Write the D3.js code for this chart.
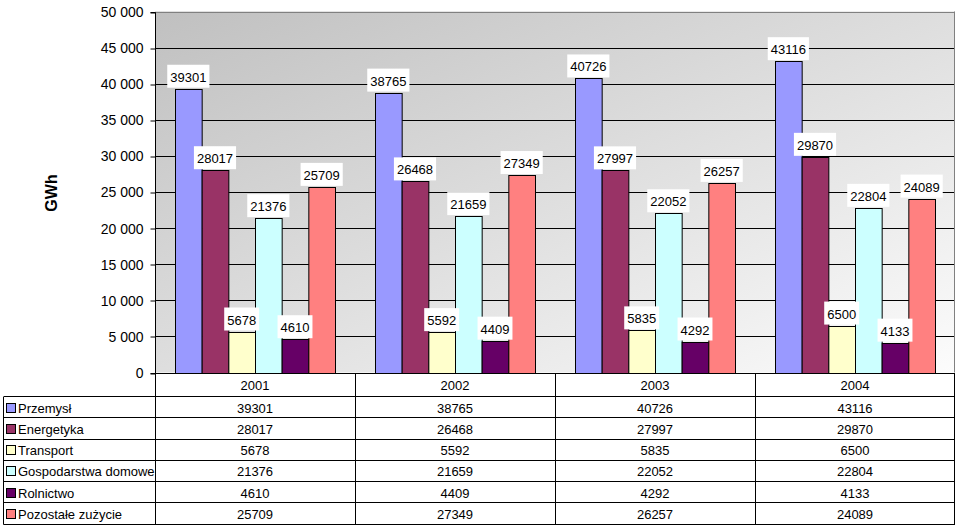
<!DOCTYPE html>
<html>
<head>
<meta charset="utf-8">
<script src="https://cdn.jsdelivr.net/npm/d3@7"></script>
<style>
  html, body { margin: 0; padding: 0; background: #ffffff; }
  svg { display: block; font-family: Arial, "Liberation Sans", sans-serif; }
</style>
</head>
<body>
<svg id="chart" width="959" height="528"></svg>
<script>
const years = ["2001", "2002", "2003", "2004"];
const seriesNames = ["Przemysł", "Energetyka", "Transport", "Gospodarstwa domowe", "Rolnictwo", "Pozostałe zużycie"];
const przemysl = [39301, 38765, 40726, 43116];
const energetyka = [28017, 26468, 27997, 29870];
const transport = [5678, 5592, 5835, 6500];
const gospodarstwa = [21376, 21659, 22052, 22804];
const rolnictwo = [4610, 4409, 4292, 4133];
const pozostale = [25709, 27349, 26257, 24089];
const seriesColors = ["#9999ff", "#993366", "#ffffcc", "#ccffff", "#660066", "#ff8080"];
const yTicks = [0, 5000, 10000, 15000, 20000, 25000, 30000, 35000, 40000, 45000, 50000];
const yTitle = "GWh";

const seriesValues = [przemysl, energetyka, transport, gospodarstwa, rolnictwo, pozostale];
const series = seriesNames.map((name, i) => ({ name, color: seriesColors[i], values: seriesValues[i] }));

const svg = d3.select("#chart");
const plot = { left: 155, right: 955, top: 11.5, bottom: 372.5 };

const x = d3.scaleBand().domain(years).range([plot.left, plot.right]).padding(0);
const xs = d3.scaleBand().domain(seriesNames).range([0, x.bandwidth()]).paddingInner(0).paddingOuter(0.75);
const y = d3.scaleLinear().domain([0, 50000]).range([plot.bottom, plot.top]);

const fmt = d3.formatLocale({ decimal: ",", thousands: " ", grouping: [3], currency: ["", ""] }).format(",d");

// background gradient
const defs = svg.append("defs");
const grad = defs.append("linearGradient").attr("id", "bg").attr("x1", 0).attr("y1", 0).attr("x2", 1).attr("y2", 1);
grad.append("stop").attr("offset", "0%").attr("stop-color", "#c0c0c0");
grad.append("stop").attr("offset", "100%").attr("stop-color", "#fcfcfc");

svg.append("rect")
  .attr("x", plot.left).attr("y", plot.top)
  .attr("width", plot.right - plot.left).attr("height", plot.bottom - plot.top)
  .attr("fill", "url(#bg)");

// gridlines
svg.append("g").selectAll("line").data(yTicks.filter(d => d > 0)).join("line")
  .attr("x1", plot.left).attr("x2", plot.right)
  .attr("y1", d => Math.round(y(d)) + 0.5).attr("y2", d => Math.round(y(d)) + 0.5)
  .attr("stroke", d => d === 50000 ? "#808080" : "#000").attr("stroke-width", 1);

// right border of plot
svg.append("line").attr("x1", plot.right - 0.5).attr("x2", plot.right - 0.5)
  .attr("y1", plot.top).attr("y2", plot.bottom).attr("stroke", "#808080");

// y axis
const yAxis = d3.axisLeft(y).tickValues(yTicks).tickFormat(fmt).tickSize(5).tickPadding(7);
const yg = svg.append("g").attr("transform", `translate(${plot.left + 0.5},0.5)`).call(yAxis);
yg.select(".domain").attr("stroke", "#000").attr("d", `M-5,${Math.round(plot.top)}H0V${Math.round(plot.bottom)}H-5`);
yg.selectAll(".tick line").attr("stroke", "#000").attr("transform", d => `translate(0,${Math.round(y(d)) - y(d)})`);
yg.selectAll(".tick text").attr("font-size", "14px").attr("fill", "#000").attr("font-family", "Arial, 'Liberation Sans', sans-serif");

// y title
svg.append("text").attr("transform", "translate(57,193) rotate(-90)")
  .attr("text-anchor", "middle").attr("font-weight", "bold").attr("font-size", "16px").text(yTitle);

// bars
const groups = svg.append("g").selectAll("g").data(years).join("g")
  .attr("transform", d => `translate(${x(d)},0)`);

groups.selectAll("rect").data((yr, yi) => series.map(s => ({ name: s.name, color: s.color, v: s.values[yi] }))).join("rect")
  .attr("x", d => xs(d.name) + 0.5)
  .attr("y", d => Math.round(y(d.v)) + 0.5)
  .attr("width", xs.bandwidth())
  .attr("height", d => Math.round(plot.bottom) - Math.round(y(d.v)))
  .attr("fill", d => d.color).attr("stroke", "#000").attr("stroke-width", 1);

// x axis line
svg.append("line").attr("x1", plot.left).attr("x2", plot.right)
  .attr("y1", Math.round(plot.bottom) + 0.5).attr("y2", Math.round(plot.bottom) + 0.5).attr("stroke", "#000");

// data labels
const labels = svg.append("g");
years.forEach((yr, yi) => {
  series.forEach(s => {
    const cx = x(yr) + xs(s.name) + xs.bandwidth() / 2;
    const top = y(s.values[yi]);
    const g = labels.append("g");
    const t = g.append("text").attr("x", cx).attr("y", top - 7)
      .attr("text-anchor", "middle").attr("font-size", "13px").attr("fill", "#000").text(s.values[yi]);
    const w = t.node().getComputedTextLength() + 6;
    g.insert("rect", "text").attr("x", cx - w / 2).attr("y", top - 24).attr("width", w).attr("height", 23).attr("fill", "#fff");
  });
});

// data table
const tbl = { left: 3.5, headTop: 373, headBottom: 397, rowH: 21.25 };
const tableBottom = tbl.headBottom + seriesNames.length * tbl.rowH;
const tg = svg.append("g");

// vertical lines at category bounds
const bounds = years.map(d => x(d)).concat([plot.right]);
tg.selectAll("line.v").data(bounds).join("line").attr("class", "v")
  .attr("x1", (d, i) => i === bounds.length - 1 ? d - 0.5 : d + 0.5)
  .attr("x2", (d, i) => i === bounds.length - 1 ? d - 0.5 : d + 0.5)
  .attr("y1", tbl.headTop).attr("y2", tableBottom).attr("stroke", "#000");
// left border of table
tg.append("line").attr("x1", tbl.left).attr("x2", tbl.left)
  .attr("y1", tbl.headBottom).attr("y2", tableBottom).attr("stroke", "#000");
// horizontal lines
const hLines = d3.range(seriesNames.length + 1).map(i => tbl.headBottom + i * tbl.rowH);
tg.selectAll("line.h").data(hLines).join("line").attr("class", "h")
  .attr("x1", tbl.left).attr("x2", plot.right)
  .attr("y1", d => Math.round(d) - 0.5).attr("y2", d => Math.round(d) - 0.5).attr("stroke", "#000");

// year headers
tg.selectAll("text.yr").data(years).join("text").attr("class", "yr")
  .attr("x", d => x(d) + x.bandwidth() / 2).attr("y", (tbl.headTop + tbl.headBottom) / 2 + 5)
  .attr("text-anchor", "middle").attr("font-size", "13px").text(d => d);

// rows
series.forEach((s, i) => {
  const rowTop = tbl.headBottom + i * tbl.rowH;
  const mid = rowTop + tbl.rowH / 2;
  tg.append("rect").attr("x", 6.5).attr("y", Math.round(mid - 5) + 0.5).attr("width", 9).attr("height", 9)
    .attr("fill", s.color).attr("stroke", "#000");
  tg.append("text").attr("x", 18).attr("y", mid + 5).attr("font-size", "13px").text(s.name);
  years.forEach((yr, yi) => {
    tg.append("text").attr("x", x(yr) + x.bandwidth() / 2).attr("y", mid + 5)
      .attr("text-anchor", "middle").attr("font-size", "13px").text(s.values[yi]);
  });
});
</script>
</body>
</html>
